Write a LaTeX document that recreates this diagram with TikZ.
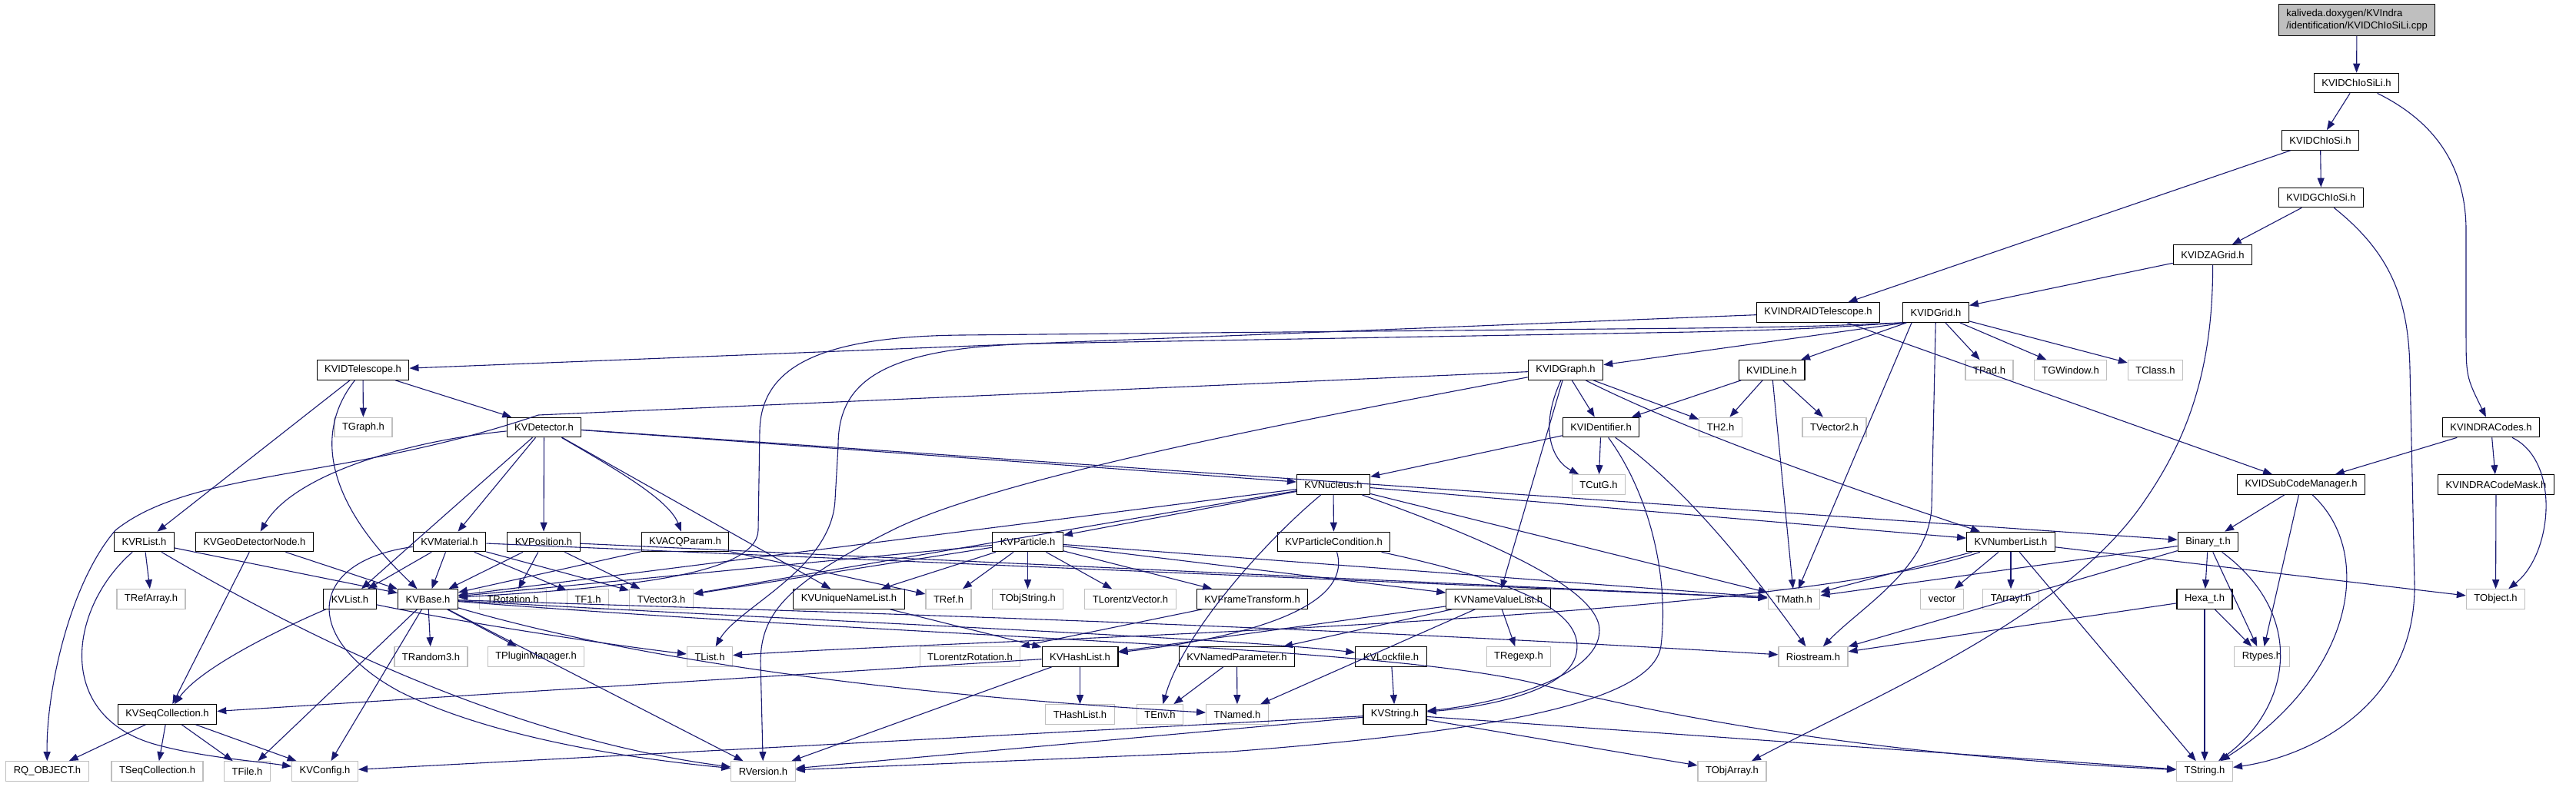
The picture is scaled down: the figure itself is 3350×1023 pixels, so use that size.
\documentclass[tikz,border=0pt]{standalone}
\usepackage{fontspec}
\setmainfont{Liberation Sans}
\usetikzlibrary{arrows.meta,positioning}
\definecolor{incblue}{HTML}{191970}
\definecolor{extgray}{HTML}{BFBFBF}

\begin{document}
\begin{tikzpicture}[
		x=0.5pt, y=-0.5pt,
		font=\fontsize{6.5}{7.8}\selectfont,
		hdr/.style={rectangle, draw=black, line width=0.6pt, minimum height=12.75pt, inner xsep=5pt, inner ysep=0pt},
		ext/.style={hdr, draw=extgray},
		src/.style={hdr, fill=extgray, align=left, minimum height=20.3pt},
		inc/.style={draw=incblue, line width=0.55pt, -{Triangle[length=6pt,width=4.5pt]}}
	]
	\useasboundingbox (0,0) rectangle (3350,1023);

	% file and its headers
	\node[src] (cpp) at (3065,26) {kaliveda.doxygen/KVIndra\\/identification/KVIDChIoSiLi.cpp};
	\node[hdr] (KVIDChIoSiLi) at (3064.5,108) {KVIDChIoSiLi.h};
	\node[hdr] (KVIDChIoSi) at (3017.5,182.5) {KVIDChIoSi.h};
	\node[hdr] (KVIDGChIoSi) at (3018.5,257) {KVIDGChIoSi.h};
	\node[hdr] (KVIDZAGrid) at (2877.5,331.5) {KVIDZAGrid.h};
	\node[hdr] (KVINDRAIDTelescope) at (2364.5,406.5) {KVINDRAIDTelescope.h};
	\node[hdr] (KVIDGrid) at (2517.5,406.5) {KVIDGrid.h};
	\node[hdr] (KVIDTelescope) at (472,481.5) {KVIDTelescope.h};
	\node[hdr] (KVIDGraph) at (2036,481.5) {KVIDGraph.h};
	\node[hdr] (KVIDLine) at (2304,481.5) {KVIDLine.h};
	\node[ext] (TPad) at (2587,481.5) {TPad.h};
	\node[ext] (TGWindow) at (2692.5,481.5) {TGWindow.h};
	\node[ext] (TClass) at (2803,481.5) {TClass.h};
	\node[ext] (TGraph) at (472.5,556) {TGraph.h};
	\node[hdr] (KVDetector) at (707.5,556) {KVDetector.h};
	\node[hdr] (KVIDentifier) at (2082,556) {KVIDentifier.h};
	\node[ext] (TH2) at (2237.5,556) {TH2.h};
	\node[ext] (TVector2) at (2385.5,556) {TVector2.h};
	\node[hdr] (KVINDRACodes) at (3239.5,556) {KVINDRACodes.h};
	\node[hdr] (KVNucleus) at (1734,630.5) {KVNucleus.h};
	\node[ext] (TCutG) at (2079,630.5) {TCutG.h};
	\node[hdr] (KVIDSubCodeManager) at (2992.5,630.5) {KVIDSubCodeManager.h};
	\node[hdr] (KVINDRACodeMask) at (3246,630.5) {KVINDRACodeMask.h};
	\node[hdr] (KVRList) at (187.5,705) {KVRList.h};
	\node[hdr] (KVGeoDetectorNode) at (331,705) {KVGeoDetectorNode.h};
	\node[hdr] (KVMaterial) at (584.5,705) {KVMaterial.h};
	\node[hdr] (KVPosition) at (707,705) {KVPosition.h};
	\node[hdr] (KVACQParam) at (891,705) {KVACQParam.h};
	\node[hdr] (KVParticle) at (1336.5,705) {KVParticle.h};
	\node[hdr] (KVParticleCondition) at (1734.5,705) {KVParticleCondition.h};
	\node[hdr] (KVNumberList) at (2615,705) {KVNumberList.h};
	\node[hdr] (Binaryt) at (2871.5,705) {Binary\_t.h};
	\node[ext] (TRefArray) at (196.5,779.5) {TRefArray.h};
	\node[hdr] (KVList) at (455,779.5) {KVList.h};
	\node[hdr] (KVBase) at (556.5,779.5) {KVBase.h};
	\node[ext] (TRotation) at (667,779.5) {TRotation.h};
	\node[ext] (TF1) at (764.5,779.5) {TF1.h};
	\node[ext] (TVector3) at (860,779.5) {TVector3.h};
	\node[hdr] (KVUniqueNameList) at (1104,779.5) {KVUniqueNameList.h};
	\node[ext] (TRef) at (1233.5,779.5) {TRef.h};
	\node[ext] (TObjString) at (1336.5,779.5) {TObjString.h};
	\node[ext] (TLorentzVector) at (1470,779.5) {TLorentzVector.h};
	\node[hdr] (KVFrameTransform) at (1628.5,779.5) {KVFrameTransform.h};
	\node[hdr] (KVNameValueList) at (1948.5,779.5) {KVNameValueList.h};
	\node[ext] (TMath) at (2333,779.5) {TMath.h};
	\node[ext] (vector) at (2525.5,779.5) {vector};
	\node[ext] (TArrayI) at (2615,779.5) {TArrayI.h};
	\node[hdr] (Hexat) at (2867,779.5) {Hexa\_t.h};
	\node[ext] (TObject) at (3245.5,779.5) {TObject.h};
	\node[ext] (TRandom3) at (560.5,854.5) {TRandom3.h};
	\node[ext] (TPluginManager) at (697,854.5) {TPluginManager.h};
	\node[ext] (TList) at (923,854.5) {TList.h};
	\node[ext] (TLorentzRotation) at (1261.5,854.5) {TLorentzRotation.h};
	\node[hdr] (KVHashList) at (1404.5,854.5) {KVHashList.h};
	\node[hdr] (KVNamedParameter) at (1608.5,854.5) {KVNamedParameter.h};
	\node[hdr] (KVLockfile) at (1809,854.5) {KVLockfile.h};
	\node[ext] (TRegexp) at (1975,854.5) {TRegexp.h};
	\node[ext] (Riostream) at (2358,854.5) {Riostream.h};
	\node[ext] (Rtypes) at (2941.5,854.5) {Rtypes.h};
	\node[hdr] (KVSeqCollection) at (217.5,929.5) {KVSeqCollection.h};
	\node[ext] (THashList) at (1404.5,929.5) {THashList.h};
	\node[ext] (TEnv) at (1508.5,929.5) {TEnv.h};
	\node[ext] (TNamed) at (1609,929.5) {TNamed.h};
	\node[hdr] (KVString) at (1814,929.5) {KVString.h};
	\node[ext] (RQOBJECT) at (61.5,1003.5) {RQ\_OBJECT.h};
	\node[ext] (TSeqCollection) at (204.5,1003.5) {TSeqCollection.h};
	\node[ext] (TFile) at (321.5,1003.5) {TFile.h};
	\node[ext] (KVConfig) at (422.5,1003.5) {KVConfig.h};
	\node[ext] (RVersion) at (992.5,1003.5) {RVersion.h};
	\node[ext] (TObjArray) at (2252.5,1003.5) {TObjArray.h};
	\node[ext] (TString) at (2867,1003.5) {TString.h};

	% top chain
	\draw[inc] (cpp) -- (KVIDChIoSiLi);
	\draw[inc] (KVIDChIoSiLi) -- (KVIDChIoSi);
	\draw[inc] (KVIDChIoSiLi) .. controls (3170,160) and (3207,220) .. (3207,300) -- (3207,430) .. controls (3207,490) .. (KVINDRACodes);
	\draw[inc] (KVIDChIoSi) -- (KVIDGChIoSi);
	\draw[inc] (KVIDChIoSi) -- (KVINDRAIDTelescope);
	\draw[inc] (KVIDGChIoSi) -- (KVIDZAGrid);
	\draw[inc] (KVIDGChIoSi) .. controls (3110,330) and (3132,390) .. (3134,480) -- (3140,760) .. controls (3142,920) and (3000,985) .. (TString);
	\draw[inc] (KVIDZAGrid) -- (KVIDGrid);
	\draw[inc] (KVIDZAGrid) .. controls (2878,480) and (2845,570) .. (2790,650) .. controls (2690,800) and (2450,900) .. (TObjArray);
	\draw[inc] (KVINDRAIDTelescope) -- (KVIDTelescope);
	\draw[inc] (KVINDRAIDTelescope) -- (KVIDSubCodeManager);

	% grid
	\draw[inc] (KVIDGrid.199) -- (KVIDGraph);
	\draw[inc] (KVIDGrid) -- (KVIDLine);
	\draw[inc] (KVIDGrid) -- (TPad);
	\draw[inc] (KVIDGrid) -- (TGWindow);
	\draw[inc] (KVIDGrid) -- (TClass);
	\draw[inc] (KVIDGrid.203) -- (TMath);
	\draw[inc] (KVIDGrid) -- (2512,660) .. controls (2508,740) and (2420,790) .. (Riostream);
	\draw[inc] (KVIDGrid.south west) .. controls (2350,425) .. (2200,427) -- (1250,436) .. controls (1060,438) and (990,480) .. (988,560) -- (986,690) .. controls (984,750) and (800,765) .. (KVBase);
	\draw[inc] (KVIDGrid.south west) .. controls (2350,428) .. (2200,432) -- (1350,447) .. controls (1140,452) and (1090,500) .. (1090,580) -- (1086,650) .. controls (1082,740) and (960,790) .. (TList);

	% graph and lines
	\draw[inc] (KVIDGraph) -- (KVIDentifier);
	\draw[inc] (KVIDGraph) .. controls (2000,560) and (2020,600) .. (TCutG);
	\draw[inc] (KVIDGraph) -- (TH2);
	\draw[inc] (KVIDGraph) -- (KVNameValueList);
	\draw[inc] (KVIDGraph) .. controls (2190,560) and (2420,640) .. (KVNumberList);
	\draw[inc] (KVIDGraph) -- (700,540) .. controls (450,625) and (250,610) .. (150,690) .. controls (90,760) and (60,900) .. (RQOBJECT);
	\draw[inc] (KVIDGraph) .. controls (1700,545) and (1300,620) .. (1160,690) .. controls (1020,760) and (990,800) .. (989,860) -- (RVersion);
	\draw[inc] (KVIDLine) -- (KVIDentifier);
	\draw[inc] (KVIDLine) -- (TH2);
	\draw[inc] (KVIDLine) -- (TVector2);
	\draw[inc] (KVIDLine) -- (TMath);
	\draw[inc] (KVIDentifier) -- (KVNucleus);
	\draw[inc] (KVIDentifier) -- (TCutG);
	\draw[inc] (KVIDentifier) .. controls (2200,640) and (2290,760) .. (Riostream);
	\draw[inc] (KVIDentifier) .. controls (2150,650) and (2170,760) .. (2160,840) .. controls (2150,920) and (1900,955) .. (1600,978) -- (RVersion);

	% telescope and detector
	\draw[inc] (KVIDTelescope) -- (TGraph);
	\draw[inc] (KVIDTelescope) -- (KVDetector);
	\draw[inc] (KVIDTelescope) -- (KVRList);
	\draw[inc] (KVIDTelescope) .. controls (410,560) and (420,650) .. (KVBase);
	\draw[inc] (KVDetector) .. controls (520,575) and (380,620) .. (KVGeoDetectorNode);
	\draw[inc] (KVDetector) -- (KVList);
	\draw[inc] (KVDetector) -- (KVMaterial);
	\draw[inc] (KVDetector) -- (KVPosition);
	\draw[inc] (KVDetector) .. controls (800,610) and (870,650) .. (KVACQParam);
	\draw[inc] (KVDetector) -- (KVUniqueNameList);
	\draw[inc] (KVDetector) -- (KVNucleus);
	\draw[inc] (KVDetector) -- (Binaryt);

	% codes
	\draw[inc] (KVINDRACodes) -- (KVIDSubCodeManager);
	\draw[inc] (KVINDRACodes) -- (KVINDRACodeMask);
	\draw[inc] (KVINDRACodes) .. controls (3330,600) and (3320,720) .. (TObject);
	\draw[inc] (KVINDRACodeMask) -- (TObject);
	\draw[inc] (KVIDSubCodeManager) -- (Binaryt);
	\draw[inc] (KVIDSubCodeManager) -- (Rtypes);
	\draw[inc] (KVIDSubCodeManager) .. controls (3090,720) and (3060,880) .. (TString);

	% nucleus and particle
	\draw[inc] (KVNucleus) -- (KVParticle);
	\draw[inc] (KVNucleus) -- (KVParticleCondition);
	\draw[inc] (KVNucleus) -- (KVNumberList);
	\draw[inc] (KVNucleus) -- (TMath);
	\draw[inc] (KVNucleus) -- (KVBase);
	\draw[inc] (KVNucleus) -- (TVector3);
	\draw[inc] (KVNucleus) .. controls (1900,690) and (2080,760) .. (2080,820) .. controls (2080,880) and (1950,915) .. (KVString);
	\draw[inc] (KVNucleus) .. controls (1650,700) and (1540,820) .. (TEnv);
	\draw[inc] (KVParticleCondition) .. controls (1990,760) and (2060,800) .. (2050,850) .. controls (2040,900) and (1930,920) .. (KVString);
	\draw[inc] (KVParticleCondition) .. controls (1760,790) and (1620,830) .. (KVHashList);
	\draw[inc] (KVParticle) -- (KVBase);
	\draw[inc] (KVParticle) -- (TVector3);
	\draw[inc] (KVParticle) -- (KVUniqueNameList);
	\draw[inc] (KVParticle) -- (TRef);
	\draw[inc] (KVParticle) -- (TObjString);
	\draw[inc] (KVParticle) -- (TLorentzVector);
	\draw[inc] (KVParticle) -- (KVFrameTransform);
	\draw[inc] (KVParticle) -- (TMath);
	\draw[inc] (KVParticle) -- (KVNameValueList);
	\draw[inc] (KVFrameTransform) -- (TLorentzRotation);
	\draw[inc] (KVUniqueNameList) -- (KVHashList);
	\draw[inc] (KVACQParam) -- (KVBase);
	\draw[inc] (KVACQParam) -- (TRef);

	% material, position, lists
	\draw[inc] (KVMaterial) -- (KVList);
	\draw[inc] (KVMaterial) -- (KVBase);
	\draw[inc] (KVMaterial) -- (TF1);
	\draw[inc] (KVMaterial) -- (TVector3);
	\draw[inc] (KVMaterial) -- (TMath);
	\draw[inc] (KVMaterial) .. controls (400,730) and (390,830) .. (520,900) .. controls (650,965) and (850,990) .. (RVersion);
	\draw[inc] (KVPosition) -- (KVBase);
	\draw[inc] (KVPosition) -- (TRotation);
	\draw[inc] (KVPosition) -- (TVector3);
	\draw[inc] (KVPosition) -- (TMath);
	\draw[inc] (KVRList) -- (TRefArray);
	\draw[inc] (KVRList) -- (KVBase);
	\draw[inc] (KVRList) .. controls (90,790) and (70,930) .. (200,968) .. controls (260,985) and (330,990) .. (KVConfig);
	\draw[inc] (KVRList) .. controls (450,860) and (700,965) .. (RVersion);
	\draw[inc] (KVGeoDetectorNode) -- (KVSeqCollection);
	\draw[inc] (KVGeoDetectorNode) -- (KVBase);
	\draw[inc] (KVList) .. controls (360,820) and (260,870) .. (KVSeqCollection);
	\draw[inc] (KVList) .. controls (600,810) and (800,840) .. (TList);
	\draw[inc] (KVSeqCollection) -- (RQOBJECT);
	\draw[inc] (KVSeqCollection) -- (TSeqCollection);
	\draw[inc] (KVSeqCollection) -- (TFile);
	\draw[inc] (KVSeqCollection) -- (KVConfig);

	% base
	\draw[inc] (KVBase) -- (TRandom3);
	\draw[inc] (KVBase) -- (TPluginManager);
	\draw[inc] (KVBase) -- (TFile);
	\draw[inc] (KVBase) -- (KVConfig);
	\draw[inc] (KVBase) -- (RVersion);
	\draw[inc] (KVBase) .. controls (1200,800) and (1700,815) .. (Riostream);
	\draw[inc] (KVBase) .. controls (1100,810) and (1600,830) .. (KVLockfile);
	\draw[inc] (KVBase) .. controls (800,850) and (1100,900) .. (TNamed);
	\draw[inc] (KVBase) .. controls (1200,830) and (1800,840) .. (2000,890) .. controls (2300,965) and (2600,990) .. (TString);

	% hash lists and strings
	\draw[inc] (KVHashList) -- (KVSeqCollection);
	\draw[inc] (KVHashList) -- (THashList);
	\draw[inc] (KVHashList) -- (RVersion);
	\draw[inc] (KVNameValueList) -- (KVHashList);
	\draw[inc] (KVNameValueList) -- (KVNamedParameter);
	\draw[inc] (KVNameValueList) -- (TRegexp);
	\draw[inc] (KVNameValueList) -- (TNamed);
	\draw[inc] (KVNamedParameter) -- (TEnv);
	\draw[inc] (KVNamedParameter) -- (TNamed);
	\draw[inc] (KVLockfile) -- (KVString);
	\draw[inc] (KVString) -- (TObjArray);
	\draw[inc] (KVString) -- (TString);
	\draw[inc] (KVString) -- (RVersion);
	\draw[inc] (KVString) -- (KVConfig);

	% number list and binary
	\draw[inc] (KVNumberList) -- (vector);
	\draw[inc] (KVNumberList) -- (TArrayI);
	\draw[inc] (KVNumberList) -- (TString);
	\draw[inc] (KVNumberList) -- (TObject);
	\draw[inc] (KVNumberList) -- (TMath);
	\draw[inc] (KVNumberList) .. controls (2300,810) and (1300,830) .. (TList);
	\draw[inc] (Binaryt) -- (Hexat);
	\draw[inc] (Binaryt) -- (Rtypes);
	\draw[inc] (Binaryt) .. controls (3000,800) and (2980,920) .. (TString);
	\draw[inc] (Binaryt) -- (TMath);
	\draw[inc] (Binaryt) -- (Riostream);
	\draw[inc] (Hexat) -- (Rtypes);
	\draw[inc] (Hexat) -- (TString);
	\draw[inc] (Hexat) -- (Riostream);
\end{tikzpicture}
\end{document}
